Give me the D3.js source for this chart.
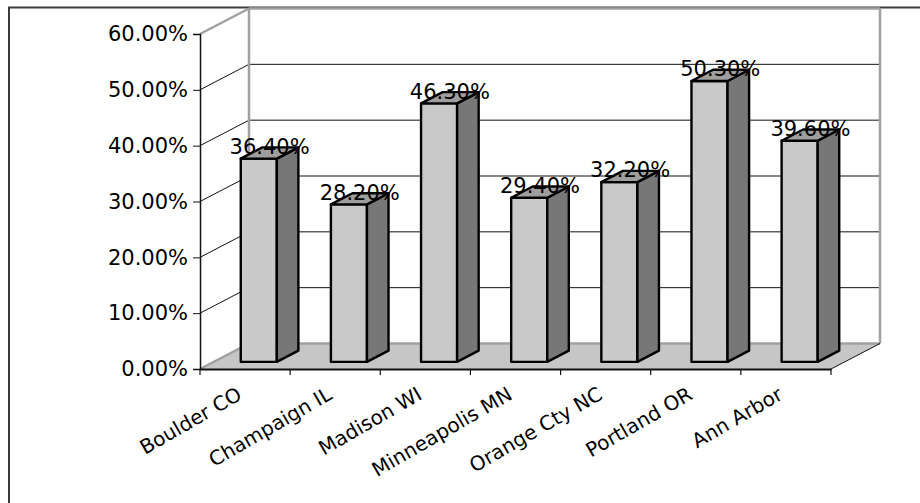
<!DOCTYPE html>
<html>
<head>
<meta charset="utf-8">
<script src="https://cdn.jsdelivr.net/npm/d3@7"></script>
<style>
  html, body { margin: 0; padding: 0; background: #fff; }
  svg { display: block; font-family: "DejaVu Sans", Verdana, sans-serif; }
</style>
</head>
<body>
<svg id="chart" width="920" height="503"></svg>
<script>
// Share of commuters, by city
const categories = ["Boulder CO", "Champaign IL", "Madison WI", "Minneapolis MN", "Orange Cty NC", "Portland OR", "Ann Arbor"];
const values = [36.4, 28.2, 46.3, 29.4, 32.2, 50.3, 39.6];
const yTicks = [0, 10, 20, 30, 40, 50, 60];

const svg = d3.select("#chart");

// Plot frame: front plane and depth offset of the 3D box
const plotLeft = 200, plotRight = 831, plotBottom = 369, plotTop = 34;
const depthX = 49, depthY = -25.5;

const x = d3.scaleBand().domain(categories).range([plotLeft, plotRight]).padding(0);
const y = d3.scaleLinear().domain([0, 60]).range([plotBottom, plotTop]);

const fmt = v => v.toFixed(2) + "%";
const wallEdge = "#a0a0a0";

// Outer chart border
svg.append("rect")
  .attr("x", 9).attr("y", 7.5)
  .attr("width", 940).attr("height", 520)
  .attr("fill", "none").attr("stroke", "#3c3c3c").attr("stroke-width", 2);

// Back wall
const bx0 = plotLeft + depthX, bx1 = plotRight + depthX;
svg.append("rect")
  .attr("x", bx0).attr("y", y(60) + depthY)
  .attr("width", bx1 - bx0).attr("height", y(0) - y(60))
  .attr("fill", "#fff");

// Back wall gridlines
svg.append("g").selectAll("line")
  .data(yTicks.filter(t => t > 0 && t < 60))
  .join("line")
  .attr("x1", bx0).attr("x2", bx1)
  .attr("y1", d => y(d) + depthY).attr("y2", d => y(d) + depthY)
  .attr("stroke", "#111").attr("stroke-width", 1);

// Side wall gridlines (diagonals from the value axis to the back wall)
svg.append("g").selectAll("line")
  .data(yTicks.filter(t => t > 0 && t < 60))
  .join("line")
  .attr("x1", plotLeft).attr("y1", d => y(d))
  .attr("x2", bx0).attr("y2", d => y(d) + depthY)
  .attr("stroke", "#111").attr("stroke-width", 1);

// Floor
svg.append("path")
  .attr("d", `M${plotLeft},${y(0)} L${plotRight},${y(0)} L${bx1},${y(0) + depthY} L${bx0},${y(0) + depthY} Z`)
  .attr("fill", "#c6c6c6");

// Wall outlines
const edges = [
  [bx0, y(60) + depthY, bx1, y(60) + depthY],
  [bx0, y(60) + depthY, bx0, y(0) + depthY],
  [bx1, y(60) + depthY, bx1, y(0) + depthY],
  [bx0, y(0) + depthY, bx1, y(0) + depthY],
  [plotLeft, y(60), bx0, y(60) + depthY],
  [plotLeft, y(0), bx0, y(0) + depthY]
];
svg.append("g").selectAll("line")
  .data(edges)
  .join("line")
  .attr("x1", d => d[0]).attr("y1", d => d[1])
  .attr("x2", d => d[2]).attr("y2", d => d[3])
  .attr("stroke", wallEdge).attr("stroke-width", 2.5);

// Floor right edge
svg.append("line")
  .attr("x1", plotRight).attr("y1", y(0))
  .attr("x2", bx1).attr("y2", y(0) + depthY)
  .attr("stroke", "#111").attr("stroke-width", 1);

// Bars as 3D boxes
const frontF = 0.28, backF = 0.72;
const barPad = 0.3;
const bars = svg.append("g").selectAll("g")
  .data(categories.map((c, i) => ({ c, v: values[i] })))
  .join("g");

function barGeom(d) {
  const x0 = x(d.c) + x.bandwidth() * barPad + frontF * depthX;
  const x1 = x(d.c) + x.bandwidth() * (1 - barPad) + frontF * depthX;
  const yb = y(0) + frontF * depthY;
  const yt = y(d.v) + frontF * depthY;
  const ddx = (backF - frontF) * depthX, ddy = (backF - frontF) * depthY;
  return { x0, x1, yb, yt, ddx, ddy };
}

bars.append("path") // front face
  .attr("d", d => { const g = barGeom(d);
    return `M${g.x0},${g.yb} L${g.x1},${g.yb} L${g.x1},${g.yt} L${g.x0},${g.yt} Z`; })
  .attr("fill", "#c9c9c9").attr("stroke", "#000").attr("stroke-width", 2.4)
  .attr("stroke-linejoin", "round");

bars.append("path") // side face
  .attr("d", d => { const g = barGeom(d);
    return `M${g.x1},${g.yb} L${g.x1 + g.ddx},${g.yb + g.ddy} L${g.x1 + g.ddx},${g.yt + g.ddy} L${g.x1},${g.yt} Z`; })
  .attr("fill", "#777777").attr("stroke", "#000").attr("stroke-width", 2.4)
  .attr("stroke-linejoin", "round");

bars.append("path") // top face
  .attr("d", d => { const g = barGeom(d);
    return `M${g.x0},${g.yt} L${g.x1},${g.yt} L${g.x1 + g.ddx},${g.yt + g.ddy} L${g.x0 + g.ddx},${g.yt + g.ddy} Z`; })
  .attr("fill", "#9e9e9e").attr("stroke", "#000").attr("stroke-width", 2.4)
  .attr("stroke-linejoin", "round");

// Value labels over the bar tops
bars.append("text")
  .attr("x", d => { const g = barGeom(d); return (g.x0 + g.x1) / 2 + g.ddx / 2; })
  .attr("y", d => { const g = barGeom(d); return g.yt + g.ddy / 2 + 1; })
  .attr("text-anchor", "middle")
  .attr("font-size", 21)
  .attr("fill", "#000")
  .text(d => fmt(d.v));

// Value axis
const yAxis = svg.append("g")
  .attr("transform", `translate(${plotLeft},0)`)
  .call(d3.axisLeft(y).tickValues(yTicks).tickSize(7).tickPadding(5).tickFormat(fmt));
yAxis.select(".domain").attr("stroke", "#111").attr("stroke-width", 1.5);
yAxis.selectAll(".tick line").attr("stroke", "#111");
yAxis.selectAll(".tick text")
  .attr("font-size", 21).attr("font-family", "DejaVu Sans, Verdana, sans-serif")
  .attr("fill", "#000");

// Category axis
const xAxis = svg.append("g")
  .attr("transform", `translate(0,${plotBottom})`)
  .call(d3.axisBottom(x).tickSizeInner(0).tickSizeOuter(0).tickFormat(""));
xAxis.select(".domain").attr("stroke", "#111").attr("stroke-width", 2);

// Category boundary ticks
svg.append("g").selectAll("line")
  .data(d3.range(categories.length + 1))
  .join("line")
  .attr("x1", i => plotLeft + i * x.bandwidth()).attr("x2", i => plotLeft + i * x.bandwidth())
  .attr("y1", plotBottom).attr("y2", plotBottom + 6)
  .attr("stroke", "#111").attr("stroke-width", 1.2);

// Rotated category labels
svg.append("g").selectAll("text")
  .data(categories)
  .join("text")
  .attr("transform", c => `translate(${x(c) + x.bandwidth() / 2 - 9},${plotBottom + 17}) rotate(-30)`)
  .attr("text-anchor", "end")
  .attr("dy", "0.71em")
  .attr("font-size", 20)
  .attr("fill", "#000")
  .text(c => c);
</script>
</body>
</html>
